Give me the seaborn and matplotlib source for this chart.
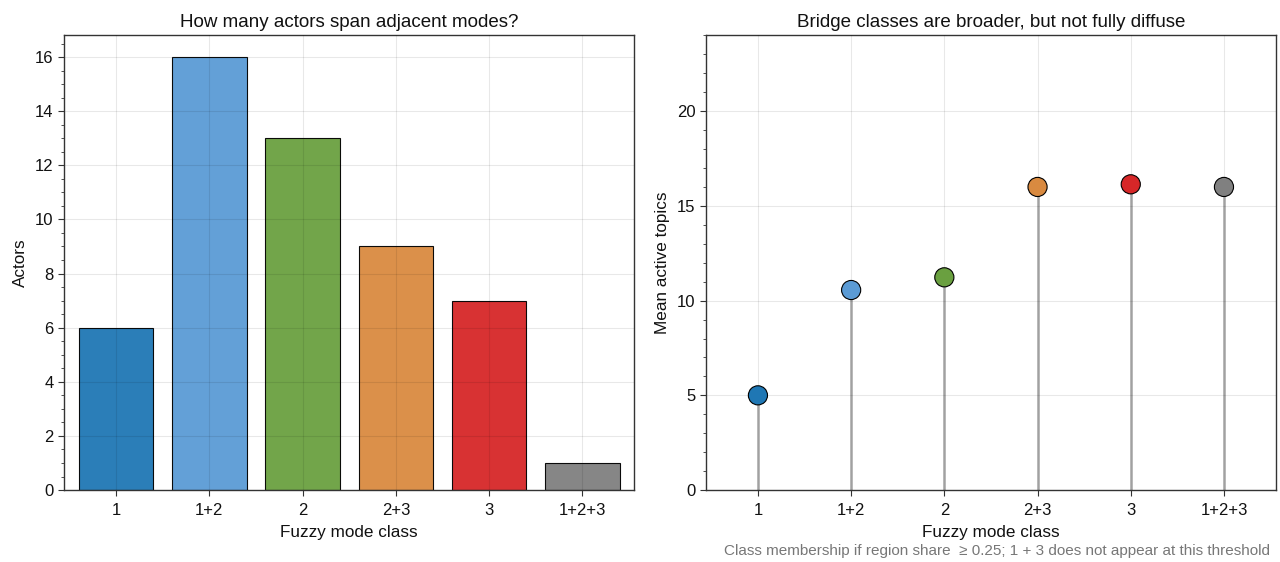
import matplotlib
matplotlib.use("Agg")
import matplotlib.pyplot as plt
from matplotlib.ticker import MultipleLocator
import pandas as pd
import seaborn as sns

classes = ["1", "1+2", "2", "2+3", "3", "1+2+3"]
actor_counts = [6, 16, 13, 9, 7, 1]
mean_topics = [5.0, 10.56, 11.23, 16.0, 16.14, 16.0]
class_colors = ["#1f77b4", "#5b9bd5", "#6aa040", "#d98a40", "#d62728", "#808080"]

df = pd.DataFrame({"cls": classes, "actors": actor_counts, "topics": mean_topics})
palette = dict(zip(classes, class_colors))

sns.set_theme(style="ticks")
plt.rcParams["font.family"] = ["Liberation Sans", "DejaVu Sans"]
plt.rcParams.update({
    "axes.edgecolor": "#333333",
    "axes.linewidth": 1.0,
    "xtick.labelsize": 12,
    "ytick.labelsize": 12,
    "axes.labelsize": 12.3,
    "xtick.direction": "out",
    "ytick.direction": "out",
    "xtick.major.pad": 5.5,
    "axes.labelpad": 5,
    "ytick.minor.visible": True,
    "text.color": "#111111",
    "axes.labelcolor": "#111111",
    "xtick.labelcolor": "#111111",
    "ytick.labelcolor": "#111111",
})

fig, (ax1, ax2) = plt.subplots(1, 2, figsize=(12.8, 5.62), dpi=100)
fig.subplots_adjust(left=0.05, right=0.997, top=0.937, bottom=0.128, wspace=0.125)

# left: counts per class
sns.barplot(data=df, x="cls", y="actors", hue="cls", palette=palette, order=classes,
            legend=False, saturation=1, edgecolor="black", linewidth=0.8, alpha=0.95,
            ax=ax1)
ax1.set_ylim(0, 16.8)
ax1.yaxis.set_major_locator(MultipleLocator(2))
ax1.yaxis.set_minor_locator(MultipleLocator(0.5))
ax1.set_title("How many actors span adjacent modes?", fontsize=13.5)
ax1.set_xlabel("Fuzzy mode class")
ax1.set_ylabel("Actors")

# right: lollipop of mean active topics
for i, v in enumerate(mean_topics):
    ax2.vlines(i, 0, v, color="#999999", linewidth=2, alpha=0.75, zorder=2)
sns.scatterplot(data=df, x="cls", y="topics", hue="cls", palette=palette, legend=False,
                s=190, edgecolor="black", linewidth=0.8, zorder=3, ax=ax2)
ax2.set_ylim(0, 24)
ax2.yaxis.set_major_locator(MultipleLocator(5))
ax2.yaxis.set_minor_locator(MultipleLocator(1))
ax2.set_title("Bridge classes are broader, but not fully diffuse", fontsize=13.5)
ax2.set_xlabel("Fuzzy mode class")
ax2.set_ylabel("Mean active topics")

for ax in (ax1, ax2):
    ax.set_xlim(-0.56, len(classes) - 0.44)
    ax.set_axisbelow(False)
    ax.grid(True, color="black", alpha=0.09, linewidth=0.8)
    ax.tick_params(axis="x", which="minor", bottom=False)
    ax.tick_params(which="major", length=4, width=0.8, color="#333333")
    ax.tick_params(which="minor", length=2.5, width=0.6, color="#333333")
    for s in ax.spines.values():
        s.set_visible(True)

fig.text(0.992, 0.008, "Class membership if region share  \u2265 0.25; 1 + 3 does not appear at this threshold",
         ha="right", va="bottom", fontsize=11, color="#777777")

fig.savefig("out.png", dpi=100)
